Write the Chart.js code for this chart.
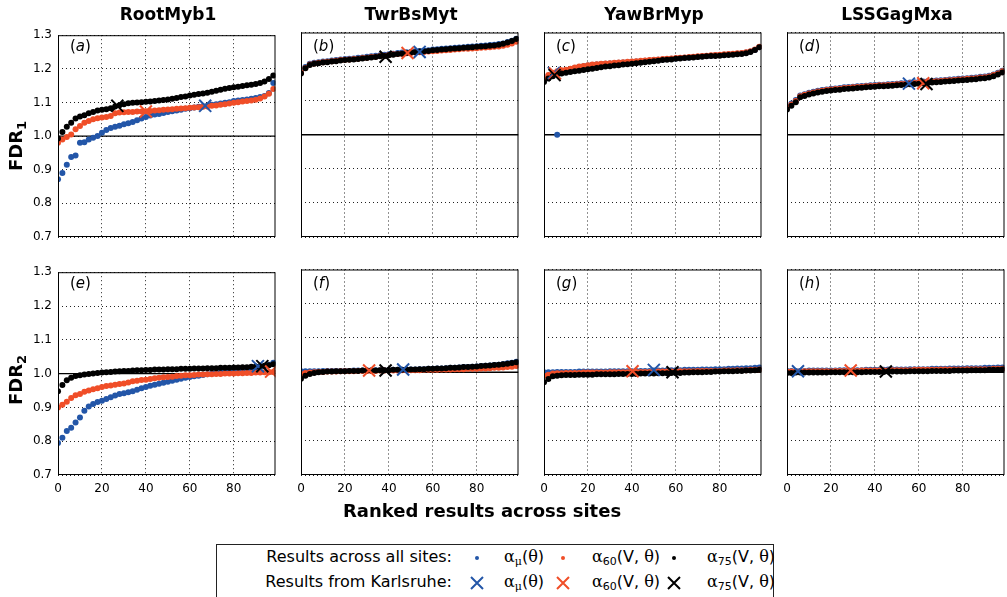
<!DOCTYPE html>
<html>
<head>
<meta charset="utf-8">
<script src="https://cdn.jsdelivr.net/npm/chart.js@4.4.1/dist/chart.umd.min.js"></script>
<style>
body{margin:0;width:1007px;height:597px;overflow:hidden;background:#fff;position:relative;font-family:"DejaVu Sans",sans-serif;color:#000}
canvas{position:absolute}
.title{position:absolute;top:4px;width:220px;text-align:center;font-weight:bold;font-size:17px}
.plab{position:absolute;font-size:15px}
.ylab{position:absolute;font-weight:bold;font-size:18px;white-space:nowrap;transform:translate(-50%,-50%) rotate(-90deg)}
.ylab sub{font-size:13px}
.xlab{position:absolute;font-weight:bold;font-size:18px;white-space:nowrap;transform:translate(-50%,-50%)}
#legend{position:absolute;left:216px;top:544px;width:556px;height:80px;border:1px solid #222}
.lt{position:absolute;font-size:16px;white-space:nowrap;line-height:18px}
.gr{font-family:"DejaVu Serif",serif}
.lt sub{font-size:11px;vertical-align:-3px;line-height:0}
svg{position:absolute;overflow:visible}
</style>
</head>
<body>
<script>
const siteNames = ['RootMyb1', 'TwrBsMyt', 'YawBrMyp', 'LSSGagMxa'];
const panelLabels = ['a', 'b', 'c', 'd', 'e', 'f', 'g', 'h'];
const xTicks = [0, 20, 40, 60, 80];
const yTicks = [0.7, 0.8, 0.9, 1.0, 1.1, 1.2, 1.3];
const ranks = [0,2,4,6,8,10,12,14,16,18,20,22,24,26,28,30,32,34,36,38,40,42,44,46,48,
  50,52,54,56,58,60,62,64,66,68,70,72,74,76,78,80,82,84,86,88,90,92,94,96,98];

// FDR1, RootMyb1
const aMu = [.872,.89,.915,.938,.942,.98,.982,.99,.995,1.0,
  1.01,1.018,1.024,1.028,1.031,1.035,1.038,1.042,1.047,1.052,
  1.057,1.061,1.064,1.066,1.069,1.072,1.074,1.076,1.078,1.081,
  1.083,1.085,1.087,1.089,1.09,1.093,1.095,1.097,1.099,1.101,
  1.104,1.106,1.107,1.109,1.111,1.113,1.116,1.119,1.128,1.158];
const a60 = [.98,.99,.997,1.005,1.02,1.03,1.04,1.045,1.05,1.053,
  1.055,1.057,1.06,1.068,1.07,1.071,1.072,1.072,1.073,1.073,
  1.074,1.075,1.076,1.077,1.078,1.079,1.08,1.081,1.082,1.083,
  1.084,1.085,1.086,1.087,1.088,1.09,1.091,1.093,1.095,1.097,
  1.099,1.101,1.103,1.104,1.106,1.108,1.112,1.118,1.126,1.14];
const a75 = [.993,1.012,1.028,1.04,1.052,1.058,1.062,1.068,1.072,1.076,
  1.078,1.08,1.083,1.088,1.092,1.095,1.098,1.099,1.1,1.101,
  1.102,1.103,1.104,1.106,1.107,1.109,1.111,1.113,1.116,1.118,
  1.121,1.123,1.125,1.127,1.129,1.132,1.135,1.138,1.141,1.143,
  1.145,1.147,1.149,1.151,1.153,1.155,1.158,1.162,1.17,1.18];
// FDR1, TwrBsMyt
const bMu = [1.184,1.199,1.208,1.211,1.213,1.215,1.216,1.218,1.219,1.221,
  1.222,1.223,1.224,1.226,1.227,1.229,1.23,1.232,1.233,1.235,
  1.236,1.238,1.24,1.241,1.242,1.243,1.245,1.246,1.247,1.248,
  1.25,1.251,1.252,1.253,1.254,1.255,1.256,1.257,1.258,1.259,
  1.26,1.261,1.262,1.263,1.264,1.266,1.268,1.272,1.276,1.282];
const b60 = [1.182,1.196,1.206,1.209,1.211,1.213,1.214,1.216,1.217,1.219,
  1.22,1.221,1.222,1.223,1.225,1.226,1.228,1.229,1.231,1.232,
  1.234,1.236,1.237,1.238,1.239,1.24,1.241,1.242,1.243,1.244,
  1.245,1.246,1.247,1.248,1.249,1.25,1.251,1.252,1.252,1.253,
  1.254,1.255,1.256,1.257,1.258,1.259,1.261,1.264,1.268,1.273];
const b75 = [1.18,1.195,1.205,1.208,1.21,1.212,1.213,1.215,1.216,1.218,
  1.219,1.22,1.221,1.222,1.224,1.225,1.227,1.228,1.23,1.231,
  1.233,1.235,1.237,1.238,1.24,1.241,1.242,1.244,1.245,1.246,
  1.248,1.249,1.25,1.251,1.252,1.253,1.254,1.255,1.256,1.257,
  1.258,1.259,1.26,1.261,1.262,1.264,1.267,1.271,1.275,1.281];
// FDR1, YawBrMyp
const cMu = [1.162,1.173,1.18,1.0,1.187,1.19,1.193,1.196,1.199,1.201,
  1.203,1.205,1.206,1.207,1.208,1.209,1.21,1.211,1.212,1.213,
  1.214,1.215,1.216,1.217,1.218,1.219,1.22,1.221,1.222,1.223,
  1.224,1.225,1.226,1.227,1.228,1.229,1.23,1.231,1.232,1.233,
  1.234,1.235,1.236,1.237,1.238,1.239,1.241,1.244,1.249,1.257];
const c60 = [1.165,1.175,1.182,1.186,1.189,1.191,1.194,1.197,1.2,1.202,
  1.204,1.206,1.207,1.208,1.209,1.21,1.211,1.212,1.213,1.214,
  1.215,1.216,1.217,1.218,1.219,1.22,1.221,1.222,1.223,1.224,
  1.225,1.226,1.227,1.228,1.229,1.23,1.231,1.232,1.233,1.234,
  1.235,1.236,1.237,1.238,1.239,1.24,1.242,1.245,1.25,1.258];
const c75 = [1.155,1.165,1.172,1.177,1.18,1.182,1.184,1.186,1.188,1.19,
  1.192,1.194,1.196,1.198,1.2,1.201,1.203,1.204,1.206,1.207,
  1.208,1.21,1.211,1.213,1.214,1.216,1.217,1.219,1.22,1.221,
  1.223,1.224,1.225,1.226,1.227,1.228,1.229,1.23,1.231,1.231,
  1.232,1.233,1.234,1.235,1.236,1.237,1.239,1.243,1.249,1.257];
// FDR1, LSSGagMxa
const dMu = [1.082,1.092,1.102,1.115,1.119,1.123,1.126,1.129,1.131,1.133,
  1.135,1.136,1.137,1.139,1.14,1.141,1.142,1.143,1.144,1.145,
  1.146,1.147,1.147,1.148,1.149,1.15,1.151,1.152,1.153,1.154,
  1.155,1.156,1.157,1.158,1.159,1.16,1.161,1.162,1.163,1.164,
  1.165,1.166,1.167,1.168,1.17,1.171,1.173,1.177,1.182,1.188];
const d60 = [1.079,1.089,1.099,1.113,1.117,1.121,1.124,1.127,1.129,1.131,
  1.133,1.134,1.135,1.137,1.138,1.139,1.14,1.141,1.142,1.143,
  1.144,1.145,1.145,1.146,1.147,1.148,1.149,1.15,1.151,1.152,
  1.153,1.154,1.155,1.156,1.157,1.158,1.159,1.16,1.161,1.162,
  1.163,1.164,1.165,1.166,1.168,1.169,1.171,1.175,1.18,1.186];
const d75 = [1.074,1.085,1.095,1.11,1.114,1.118,1.121,1.124,1.126,1.128,
  1.13,1.131,1.132,1.134,1.135,1.136,1.137,1.138,1.139,1.14,
  1.141,1.142,1.142,1.143,1.144,1.145,1.146,1.147,1.148,1.149,
  1.15,1.151,1.152,1.153,1.154,1.155,1.156,1.157,1.158,1.159,
  1.16,1.161,1.162,1.163,1.165,1.166,1.168,1.172,1.177,1.183];
// FDR2, RootMyb1
const eMu = [.795,.81,.83,.84,.855,.87,.89,.903,.91,.916,
  .92,.925,.93,.935,.94,.942,.945,.948,.952,.957,
  .96,.964,.967,.97,.973,.976,.979,.982,.985,.988,
  .99,.992,.994,.996,.998,1.0,1.002,1.003,1.005,1.006,
  1.008,1.01,1.012,1.014,1.016,1.018,1.02,1.022,1.026,1.032];
const e60 = [.9,.908,.917,.928,.936,.94,.946,.95,.954,.957,
  .96,.963,.965,.967,.969,.971,.974,.977,.979,.981,
  .982,.984,.986,.988,.989,.99,.991,.993,.994,.995,
  .995,.996,.997,.997,.998,.998,.999,.999,1.0,1.0,
  1.0,1.001,1.001,1.002,1.002,1.003,1.003,1.004,1.004,1.005];
const e75 = [.948,.966,.98,.988,.993,.995,.997,.999,1.0,1.002,
  1.003,1.004,1.005,1.006,1.007,1.008,1.008,1.009,1.01,1.01,
  1.011,1.011,1.012,1.012,1.012,1.013,1.013,1.013,1.014,1.014,
  1.014,1.015,1.015,1.015,1.016,1.016,1.016,1.017,1.017,1.017,
  1.018,1.018,1.019,1.019,1.02,1.021,1.022,1.023,1.025,1.028];
// FDR2, TwrBsMyt
const fMu = [1.003,1.003,1.003,1.003,1.003,1.004,1.004,1.004,1.004,1.004,
  1.004,1.004,1.005,1.005,1.005,1.005,1.005,1.006,1.006,1.006,
  1.006,1.007,1.007,1.007,1.008,1.008,1.008,1.009,1.009,1.01,
  1.01,1.011,1.011,1.012,1.013,1.013,1.014,1.015,1.015,1.016,
  1.017,1.018,1.019,1.02,1.021,1.022,1.024,1.026,1.028,1.031];
const f60 = [.995,.998,.999,1.0,1.001,1.001,1.002,1.002,1.002,1.003,
  1.003,1.003,1.003,1.004,1.004,1.004,1.004,1.004,1.005,1.005,
  1.005,1.005,1.005,1.006,1.006,1.006,1.006,1.006,1.007,1.007,
  1.007,1.007,1.008,1.008,1.008,1.009,1.009,1.009,1.01,1.01,
  1.01,1.011,1.011,1.012,1.013,1.013,1.014,1.015,1.016,1.018];
const f75 = [.981,.99,.995,.998,1.0,1.001,1.002,1.002,1.003,1.003,
  1.003,1.004,1.004,1.004,1.005,1.005,1.005,1.005,1.006,1.006,
  1.006,1.007,1.007,1.007,1.008,1.008,1.008,1.009,1.009,1.01,
  1.01,1.011,1.011,1.012,1.013,1.013,1.014,1.015,1.015,1.016,
  1.017,1.018,1.019,1.02,1.021,1.022,1.023,1.025,1.027,1.029];
// FDR2, YawBrMyp
const gMu = [1.0,1.0,1.0,1.001,1.001,1.001,1.001,1.001,1.002,1.002,
  1.002,1.002,1.002,1.002,1.002,1.003,1.003,1.003,1.003,1.003,
  1.003,1.004,1.004,1.004,1.004,1.005,1.005,1.005,1.006,1.006,
  1.006,1.006,1.007,1.007,1.007,1.007,1.008,1.008,1.008,1.009,
  1.009,1.009,1.01,1.01,1.011,1.011,1.012,1.012,1.013,1.014];
const g60 = [.99,.993,.996,.997,.997,.998,.998,.998,.998,.999,
  .999,.999,.999,.999,.999,1.0,1.0,1.0,1.0,1.0,
  1.0,1.001,1.001,1.001,1.001,1.001,1.002,1.002,1.002,1.002,
  1.002,1.003,1.003,1.003,1.003,1.004,1.004,1.004,1.004,1.004,
  1.004,1.005,1.005,1.005,1.006,1.006,1.006,1.007,1.007,1.008];
const g75 = [.971,.98,.988,.99,.991,.992,.992,.992,.993,.993,
  .993,.993,.994,.994,.994,.994,.994,.995,.995,.995,
  .995,.995,.996,.996,.996,.996,.997,.997,.997,.998,
  .998,.998,.999,.999,1.0,1.0,1.0,1.001,1.001,1.002,
  1.002,1.003,1.003,1.003,1.004,1.004,1.005,1.005,1.006,1.007];
// FDR2, LSSGagMxa
const hMu = [1.004,1.004,1.004,1.004,1.004,1.005,1.005,1.005,1.005,1.005,
  1.005,1.005,1.006,1.006,1.006,1.006,1.006,1.006,1.007,1.007,
  1.007,1.007,1.007,1.008,1.008,1.008,1.008,1.008,1.009,1.009,
  1.009,1.009,1.009,1.01,1.01,1.01,1.01,1.011,1.011,1.011,
  1.011,1.012,1.012,1.012,1.012,1.013,1.013,1.013,1.014,1.014];
const h60 = [1.002,1.002,1.002,1.002,1.003,1.003,1.003,1.003,1.003,1.003,
  1.003,1.004,1.004,1.004,1.004,1.004,1.004,1.005,1.005,1.005,
  1.005,1.005,1.005,1.005,1.006,1.006,1.006,1.006,1.006,1.007,
  1.007,1.007,1.007,1.007,1.007,1.008,1.008,1.008,1.008,1.008,
  1.008,1.009,1.009,1.009,1.009,1.009,1.009,1.01,1.01,1.01];
const h75 = [.998,.998,.999,.999,.999,.999,.999,.999,.999,.999,
  1.0,1.0,1.0,1.0,1.0,1.0,1.0,1.0,1.001,1.001,
  1.001,1.001,1.001,1.002,1.002,1.002,1.002,1.002,1.003,1.003,
  1.003,1.003,1.003,1.004,1.004,1.004,1.004,1.004,1.005,1.005,
  1.005,1.005,1.006,1.006,1.006,1.006,1.007,1.007,1.007,1.008];

// Karlsruhe results [rank, value] in order: alpha_mu, alpha_60, alpha_75
const karlsA = [[67, 1.09], [40, 1.073], [27, 1.09]];
const karlsB = [[54, 1.243], [48.5, 1.24], [38.5, 1.229]];
const karlsC = [[4.5, 1.181], [5, 1.18], [4.8, 1.175]];
const karlsD = [[55.5, 1.15], [62, 1.151], [63.5, 1.149]];
const karlsE = [[91, 1.022], [97, 1.006], [93, 1.022]];
const karlsF = [[46.5, 1.008], [31, 1.005], [38.5, 1.005]];
const karlsG = [[50, 1.007], [40.3, 1.003], [58.5, 1.0]];
const karlsH = [[5, 1.003], [29, 1.005], [45, 1.002]];

const BLUE = '#2356a8', RED = '#f04e28', BLACK = '#000';
const colLeft = [58, 301, 544, 787];
const rowTop = [30, 267];
const PW = 220;

const panels = [
  {mu: aMu, p60: a60, p75: a75, k: karlsA}, {mu: bMu, p60: b60, p75: b75, k: karlsB},
  {mu: cMu, p60: c60, p75: c75, k: karlsC}, {mu: dMu, p60: d60, p75: d75, k: karlsD},
  {mu: eMu, p60: e60, p75: e75, k: karlsE}, {mu: fMu, p60: f60, p75: f75, k: karlsF},
  {mu: gMu, p60: g60, p75: g75, k: karlsG}, {mu: hMu, p60: h60, p75: h75, k: karlsH}
];

const framePlugin = {
  id: 'frame',
  afterDraw(chart) {
    const {ctx, chartArea: a} = chart;
    ctx.save();
    ctx.strokeStyle = '#000';
    ctx.lineWidth = 1;
    ctx.strokeRect(a.left + 0.5, a.top + 0.5, a.width - 1, a.height - 1);
    ctx.restore();
  }
};

const tickFont = {family: 'DejaVu Sans', size: 12};
const pts = arr => arr.map((v, i) => ({x: ranks[i], y: v}));
const dots = (arr, c) => ({type: 'scatter', data: pts(arr), backgroundColor: c, borderWidth: 0, pointRadius: 3});
const cross = (k, c) => ({type: 'scatter', data: [{x: k[0], y: k[1]}], pointStyle: 'crossRot',
  pointRadius: 8.5, borderColor: c, backgroundColor: c, borderWidth: 2});

function addHtml(html) { document.body.insertAdjacentHTML('beforeend', html); }

panels.forEach((p, idx) => {
  const col = idx % 4, row = Math.floor(idx / 4);
  const H = row ? 208 : 207;
  const cv = document.createElement('canvas');
  cv.width = 45 + PW + 8;
  cv.height = 8 + H + 25;
  cv.style.left = (colLeft[col] - 45) + 'px';
  cv.style.top = (rowTop[row] - 8) + 'px';
  document.body.appendChild(cv);

  new Chart(cv, {
    type: 'scatter',
    data: {
      datasets: [
        cross(p.k[2], BLACK), cross(p.k[1], RED), cross(p.k[0], BLUE),
        dots(p.p75, BLACK), dots(p.p60, RED), dots(p.mu, BLUE),
        {type: 'line', data: [{x: 0, y: 1}, {x: 99, y: 1}], borderColor: '#000', borderWidth: 1.4, pointRadius: 0}
      ]
    },
    options: {
      responsive: false,
      animation: false,
      events: [],
      layout: {padding: {left: 0, top: 8, right: 8, bottom: 0}},
      plugins: {legend: {display: false}, tooltip: {enabled: false}},
      scales: {
        x: {
          type: 'linear', min: 0, max: 99,
          afterFit: s => { s.height = 25; },
          afterBuildTicks: s => { s.ticks = xTicks.map(v => ({value: v})); },
          grid: {color: '#222', lineWidth: 1, drawTicks: false},
          border: {display: false, dash: [1, 3]},
          ticks: {display: row === 1, padding: 7, color: '#000', font: tickFont}
        },
        y: {
          type: 'linear', min: 0.7, max: 1.3,
          afterFit: s => { s.width = 45; },
          afterBuildTicks: s => { s.ticks = yTicks.map(v => ({value: v})); },
          grid: {color: '#222', lineWidth: 1, drawTicks: false},
          border: {display: false, dash: [1, 3]},
          ticks: {display: col === 0, padding: 6, color: '#000', font: tickFont, callback: v => v.toFixed(1)}
        }
      }
    },
    plugins: [framePlugin]
  });

  addHtml(`<div class="plab" style="left:${colLeft[col] + 12}px;top:${rowTop[row] + 7}px">(<i>${panelLabels[idx]}</i>)</div>`);
});

siteNames.forEach((s, i) => addHtml(`<div class="title" style="left:${colLeft[i]}px">${s}</div>`));
addHtml('<div class="ylab" style="left:17px;top:146px">FDR<sub>1</sub></div>');
addHtml('<div class="ylab" style="left:17px;top:380px">FDR<sub>2</sub></div>');
addHtml('<div class="xlab" style="left:482px;top:510px">Ranked results across sites</div>');

// legend
const a = (sub, arg) => `<span class="gr">α</span><sub>${sub}</sub>(${arg})`;
const th = '<span class="gr">θ</span>';
const dot = (x, y, c) => `<svg style="left:${x - 3}px;top:${y - 3}px" width="6" height="6"><circle cx="3" cy="3" r="2" fill="${c}"/></svg>`;
const xm = (x, y, c) => `<svg style="left:${x - 6}px;top:${y - 6}px" width="12" height="12"><path d="M0 0L12 12M12 0L0 12" stroke="${c}" stroke-width="2"/></svg>`;
addHtml('<div id="legend"></div>');
[[558, 'Results across all sites:', dot], [583, 'Results from Karlsruhe:', xm]].forEach(([y, label, mk]) => {
  addHtml(`<div class="lt" style="left:200px;width:252px;text-align:right;top:${y - 10}px">${label}</div>`);
  addHtml(mk(477, y, BLUE) + mk(563, y, RED) + mk(674, y, BLACK));
  addHtml(`<div class="lt" style="left:504px;top:${y - 10}px">${a('<span class="gr">μ</span>', th)}</div>`);
  addHtml(`<div class="lt" style="left:592px;top:${y - 10}px">${a('60', 'V, ' + th)}</div>`);
  addHtml(`<div class="lt" style="left:707px;top:${y - 10}px">${a('75', 'V, ' + th)}</div>`);
});
</script>
</body>
</html>
